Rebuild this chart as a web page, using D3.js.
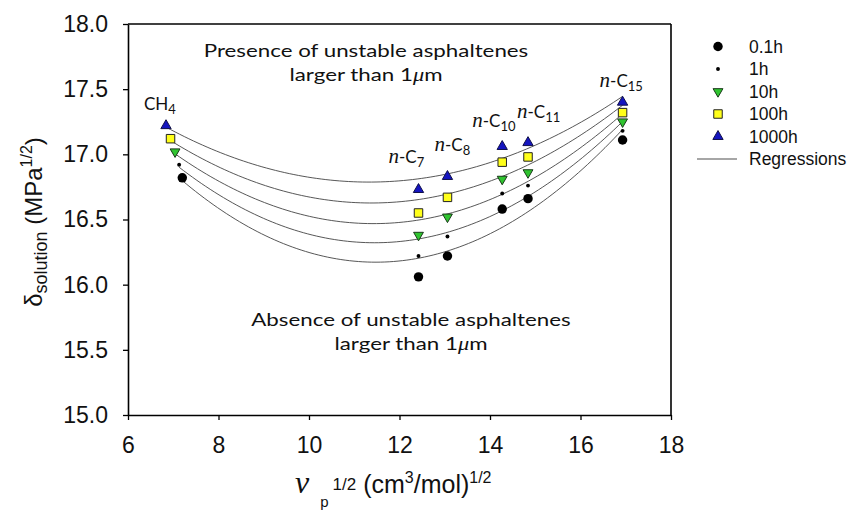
<!DOCTYPE html>
<html>
<head>
<meta charset="utf-8">
<script src="https://cdn.jsdelivr.net/npm/d3@7"></script>
<style>
  body { margin: 0; background: #fff; }
  svg { display: block; }
</style>
</head>
<body>
<svg id="chart" width="850" height="510"></svg>
<script>
// ---- data -------------------------------------------------------------
const compounds = ["CH4", "n-C7", "n-C8", "n-C10", "n-C11", "n-C15"];
const seriesNames = ["0.1h", "1h", "10h", "100h", "1000h"];

// square root of solvent molar volume, (cm3/mol)^1/2
const vpAlkanes = [12.42, 13.06, 14.27, 14.84, 16.93];      // n-C7 .. n-C15
const vpMethane = [7.20, 7.13, 7.04, 6.94, 6.84];           // CH4, per aging time

// solution solubility parameter at onset, MPa^1/2 (CH4, n-C7, n-C8, n-C10, n-C11, n-C15)
const delta01h   = [16.82, 16.06, 16.22, 16.58, 16.66, 17.11];
const delta1h    = [16.92, 16.22, 16.37, 16.70, 16.76, 17.18];
const delta10h   = [17.02, 16.38, 16.52, 16.81, 16.86, 17.25];
const delta100h  = [17.12, 16.55, 16.67, 16.94, 16.98, 17.32];
const delta1000h = [17.22, 16.73, 16.83, 17.06, 17.09, 17.40];

const xTickValues = [6, 8, 10, 12, 14, 16, 18];
const yTickValues = [15.0, 15.5, 16.0, 16.5, 17.0, 17.5, 18.0];

// ---- layout -----------------------------------------------------------
const svg = d3.select("#chart");
const x = d3.scaleLinear().domain([6, 18]).range([128, 671]);
const y = d3.scaleLinear().domain([15, 18]).range([415, 24]);

const deltas = [delta01h, delta1h, delta10h, delta100h, delta1000h];
const series = seriesNames.map((name, i) => ({
  name,
  points: deltas[i].map((d, j) => ({
    compound: compounds[j],
    vp: j === 0 ? vpMethane[i] : vpAlkanes[j - 1],
    delta: d
  }))
}));

const styles = {
  "0.1h":  { type: d3.symbolCircle,   size: 70, fill: "#000",    stroke: "none", rot: 0 },
  "1h":    { type: d3.symbolCircle,   size: 12, fill: "#000",    stroke: "none", rot: 0 },
  "10h":   { type: d3.symbolTriangle, size: 42, fill: "#2fc42f", stroke: "#1a3a1a", rot: 180 },
  "100h":  { type: d3.symbolSquare,   size: 72, fill: "#ffff1a", stroke: "#222", rot: 0 },
  "1000h": { type: d3.symbolTriangle, size: 46, fill: "#1515c0", stroke: "#10104a", rot: 0 }
};

// ---- quadratic least-squares regression --------------------------------
function quadFit(pts) {
  let S = [0, 0, 0, 0, 0], T = [0, 0, 0];
  pts.forEach(p => {
    let xp = 1;
    for (let k = 0; k < 5; k++) { S[k] += xp; if (k < 3) T[k] += xp * p.delta; xp *= p.vp; }
  });
  const A = [[S[0], S[1], S[2], T[0]], [S[1], S[2], S[3], T[1]], [S[2], S[3], S[4], T[2]]];
  for (let c = 0; c < 3; c++) {
    for (let r = c + 1; r < 3; r++) {
      const f = A[r][c] / A[c][c];
      for (let k = c; k < 4; k++) A[r][k] -= f * A[c][k];
    }
  }
  const b = [0, 0, 0];
  for (let r = 2; r >= 0; r--) {
    let s = A[r][3];
    for (let k = r + 1; k < 3; k++) s -= A[r][k] * b[k];
    b[r] = s / A[r][r];
  }
  return v => b[0] + b[1] * v + b[2] * v * v;
}

const line = d3.line().x(d => x(d[0])).y(d => y(d[1]));
const curves = svg.append("g");
series.forEach(s => {
  const f = quadFit(s.points);
  const v0 = d3.min(s.points, p => p.vp), v1 = d3.max(s.points, p => p.vp);
  const samples = d3.range(0, 101).map(i => { const v = v0 + (v1 - v0) * i / 100; return [v, f(v)]; });
  curves.append("path").attr("d", line(samples))
    .attr("fill", "none").attr("stroke", "#444").attr("stroke-width", 0.9);
});

// ---- markers -----------------------------------------------------------
const marks = svg.append("g");
series.forEach(s => {
  const st = styles[s.name];
  marks.selectAll(null).data(s.points).join("path")
    .attr("d", d3.symbol().type(st.type).size(st.size))
    .attr("transform", d => `translate(${x(d.vp)},${y(d.delta)}) rotate(${st.rot})`)
    .attr("fill", st.fill).attr("stroke", st.stroke).attr("stroke-width", 1);
});

// ---- axes & frame ------------------------------------------------------
const axisFont = "'Liberation Sans', Arial, sans-serif";
const gx = svg.append("g").attr("transform", `translate(0,${y(15)})`)
  .call(d3.axisBottom(x).tickValues(xTickValues).tickFormat(d3.format("d"))
    .tickSize(5).tickSizeOuter(0).tickPadding(17));
const gy = svg.append("g").attr("transform", `translate(${x(6)},0)`)
  .call(d3.axisLeft(y).tickValues(yTickValues).tickFormat(d3.format(".1f"))
    .tickSize(5).tickSizeOuter(0).tickPadding(15));
[gx, gy].forEach(g => {
  g.select(".domain").attr("stroke", "#000").attr("stroke-width", 1.6);
  g.selectAll(".tick line").attr("stroke", "#000").attr("stroke-width", 1.3);
  g.selectAll(".tick text").attr("font-family", axisFont).attr("font-size", 23).attr("fill", "#111");
});
svg.append("line").attr("x1", x(6)).attr("x2", x(18)).attr("y1", y(18)).attr("y2", y(18))
  .attr("stroke", "#000").attr("stroke-width", 1.6);
svg.append("line").attr("x1", x(18)).attr("x2", x(18)).attr("y1", y(18)).attr("y2", y(15))
  .attr("stroke", "#000").attr("stroke-width", 1.6);

// x-axis title: v_p^1/2 (cm3/mol)^1/2
const xt = svg.append("text").attr("x", 295).attr("y", 493).attr("fill", "#111")
  .attr("font-family", axisFont).attr("font-size", 25);
xt.append("tspan").attr("font-family", "'Liberation Serif', serif").attr("font-style", "italic")
  .attr("font-size", 32).text("v");
xt.append("tspan").attr("font-size", 15).attr("dx", 11).attr("dy", 14).text("p");
xt.append("tspan").attr("font-size", 17).attr("dx", 4).attr("dy", -17).text("1/2");
xt.append("tspan").attr("dy", 3).text(" (cm");
xt.append("tspan").attr("font-size", 16).attr("dy", -10).text("3");
xt.append("tspan").attr("dy", 10).text("/mol)");
xt.append("tspan").attr("font-size", 16).attr("dy", -10).text("1/2");

// y-axis title: delta_solution (MPa^1/2)
const yt = svg.append("text").attr("transform", "translate(42,222) rotate(-90)")
  .attr("text-anchor", "middle").attr("fill", "#111")
  .attr("font-family", axisFont).attr("font-size", 24);
yt.append("tspan").text("δ");
yt.append("tspan").attr("font-size", 18).attr("dy", 5).text("solution");
yt.append("tspan").attr("dy", -5).text(" (MPa");
yt.append("tspan").attr("font-size", 16).attr("dy", -10).text("1/2");
yt.append("tspan").attr("dy", 10).text(")");

// ---- compound labels (placed relative to the top marker) ---------------
const labelFont = "Lato, 'Open Sans', sans-serif";
const labelOffset = {
  "CH4": [-22, -16], "n-C7": [-30, -27], "n-C8": [-13, -25],
  "n-C10": [-30, -20], "n-C11": [-11, -25], "n-C15": [-23, -15]
};
const topSeries = series[series.length - 1];
topSeries.points.forEach(p => {
  const [dx, dy] = labelOffset[p.compound];
  const t = svg.append("text").attr("x", x(p.vp) + dx).attr("y", y(p.delta) + dy)
    .attr("fill", "#111").attr("font-family", labelFont).attr("font-size", 17);
  const m = p.compound.match(/^(n-)?C(H)?(\d+)$/);
  if (m[1]) {
    t.append("tspan").attr("font-family", "'Liberation Serif', serif").attr("font-style", "italic")
      .attr("font-size", 21).text("n");
    t.append("tspan").text("-C");
  } else {
    t.append("tspan").text("C" + (m[2] || ""));
  }
  t.append("tspan").attr("font-size", 13).attr("dy", 4).text(m[3]);
});

// ---- region annotations (wide humanist lettering) -----------------------
function note(cx, y0, first, second) {
  const mk = (yy) => svg.append("text")
    .attr("transform", `translate(${cx},${yy}) scale(1.24,1)`)
    .attr("text-anchor", "middle").attr("fill", "#111")
    .attr("font-family", labelFont).attr("font-size", 18);
  mk(y0).text(first);
  const t2 = mk(y0 + 24);
  t2.append("tspan").text(second);
  t2.append("tspan").attr("font-family", "'Liberation Serif', serif").attr("font-style", "italic").text("μ");
  t2.append("tspan").text("m");
}
note(366, 57, "Presence of unstable asphaltenes", "larger than 1");
note(411, 326, "Absence of unstable asphaltenes", "larger than 1");

// ---- legend ------------------------------------------------------------
const legend = svg.append("g").attr("transform", "translate(718,46.5)");
seriesNames.forEach((name, i) => {
  const st = styles[name];
  const row = legend.append("g").attr("transform", `translate(0,${i * 22.5})`);
  row.append("path").attr("d", d3.symbol().type(st.type).size(st.size))
    .attr("transform", `rotate(${st.rot})`)
    .attr("fill", st.fill).attr("stroke", st.stroke).attr("stroke-width", 1);
  row.append("text").attr("x", 31).attr("dy", "0.35em").attr("font-family", axisFont)
    .attr("font-size", 17.5).attr("fill", "#111").text(name);
});
const regRow = legend.append("g").attr("transform", `translate(0,${5 * 22.5})`);
regRow.append("line").attr("x1", -21).attr("x2", 19).attr("stroke", "#888").attr("stroke-width", 1.5);
regRow.append("text").attr("x", 31).attr("dy", "0.35em").attr("font-family", axisFont)
  .attr("font-size", 17.5).attr("fill", "#111").text("Regressions");
</script>
</body>
</html>
